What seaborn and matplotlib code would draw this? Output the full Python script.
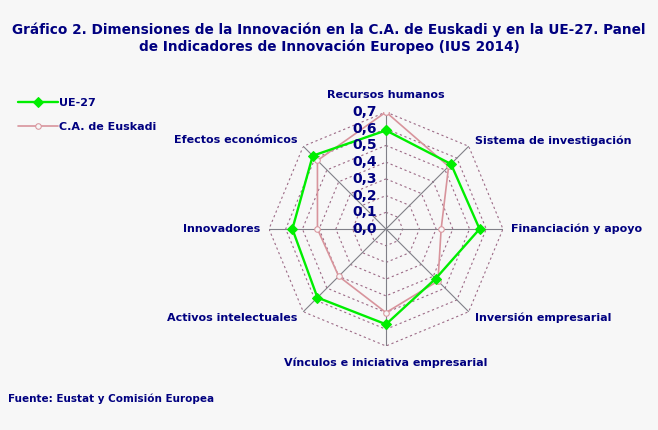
import numpy as np
import pandas as pd
import matplotlib
matplotlib.use("Agg")
import matplotlib.pyplot as plt
import matplotlib.transforms as mtransforms
import seaborn as sns

# dimensions, clockwise from the top
dimensiones = ['Recursos humanos', 'Sistema de investigación', 'Financiación y apoyo',
               'Inversión empresarial', 'Vínculos e iniciativa empresarial',
               'Activos intelectuales', 'Innovadores', 'Efectos económicos']
ue27 = [0.59, 0.55, 0.56, 0.42, 0.57, 0.58, 0.56, 0.62]
euskadi = [0.70, 0.53, 0.33, 0.44, 0.50, 0.40, 0.41, 0.58]
ring_values = [0.1, 0.2, 0.3, 0.4, 0.5, 0.6, 0.7]
ring_labels = ['0,0', '0,1', '0,2', '0,3', '0,4', '0,5', '0,6', '0,7']

navy = '#000080'
bg = '#f7f7f7'

sns.set_theme(style='white')
plt.rcParams['font.family'] = ['DejaVu Sans']

fig = plt.figure(figsize=(6.58, 4.30), dpi=100, facecolor=bg)
ax = fig.add_axes([0.4088, 0.1953, 0.3556, 0.5442], projection='polar')
ax.set_facecolor('none')
ax.set_theta_offset(np.pi / 2)
ax.set_theta_direction(-1)
ax.set_ylim(0, 0.7)
ax.grid(False)
ax.set_xticks([])
ax.set_yticks([])
ax.spines['polar'].set_visible(False)

n = len(dimensiones)
angles = np.linspace(0, 2 * np.pi, n, endpoint=False)
closed = np.append(angles, 2 * np.pi)

# octagonal grid
for r in ring_values:
    ax.plot(closed, [r] * (n + 1), color='#9c6a86', lw=0.8, ls=(0, (2, 2.5)), zorder=1)
for a in angles:
    ax.plot([a, a], [0, 0.7], color='#808088', lw=0.8, zorder=1)

df_ue = pd.DataFrame({'angulo': closed, 'valor': ue27 + ue27[:1]})
df_eu = pd.DataFrame({'angulo': closed, 'valor': euskadi + euskadi[:1]})

sns.lineplot(data=df_eu, x='angulo', y='valor', ax=ax, sort=False, color='#d8949c',
             lw=1.2, marker='o', markersize=4, markerfacecolor=bg,
             markeredgecolor='#d8949c', label='C.A. de Euskadi', zorder=3)
sns.lineplot(data=df_ue, x='angulo', y='valor', ax=ax, sort=False, color='#00ee00',
             lw=1.7, marker='D', markersize=5.5, markeredgecolor='#00ee00',
             label='UE-27', zorder=4)
ax.set_xlabel('')
ax.set_ylabel('')
ax.set_ylim(0, 0.7)

# radial tick labels along the top spoke
off = mtransforms.offset_copy(ax.transData, fig=fig, x=-9, y=0, units='dots')
for i, lab in enumerate(ring_labels):
    ax.text(0, i / 10, lab, transform=off, ha='right', va='center',
            fontsize=10, fontweight='bold', color=navy, zorder=5)

# category labels
for a, lab in zip(angles, dimensiones):
    s, c = np.sin(a), np.cos(a)
    if abs(s) < 0.01:
        ha, r = 'center', 0.80
    else:
        ha, r = ('left' if s > 0 else 'right'), 0.75
    ax.text(a, r, lab, ha=ha, va='center', fontsize=8, fontweight='bold', color=navy)

ax.get_legend().remove()
h, l = ax.get_legend_handles_labels()
fig.legend(h[::-1], l[::-1], loc='upper left', bbox_to_anchor=(0.012, 0.795), frameon=False,
           handlelength=3.6, handletextpad=0.1, labelspacing=1.25,
           prop={'size': 8, 'weight': 'bold'}, labelcolor=navy)

fig.text(0.5, 0.911, 'Gráfico 2. Dimensiones de la Innovación en la C.A. de Euskadi y en la UE-27. Panel\n'
         'de Indicadores de Innovación Europeo (IUS 2014)', ha='center', va='center',
         fontsize=9.8, fontweight='bold', color=navy, linespacing=1.3)
fig.text(0.012, 0.072, 'Fuente: Eustat y Comisión Europea', ha='left', va='center',
         fontsize=7.5, fontweight='bold', color=navy)

fig.savefig('out.png', dpi=100, facecolor=bg)
